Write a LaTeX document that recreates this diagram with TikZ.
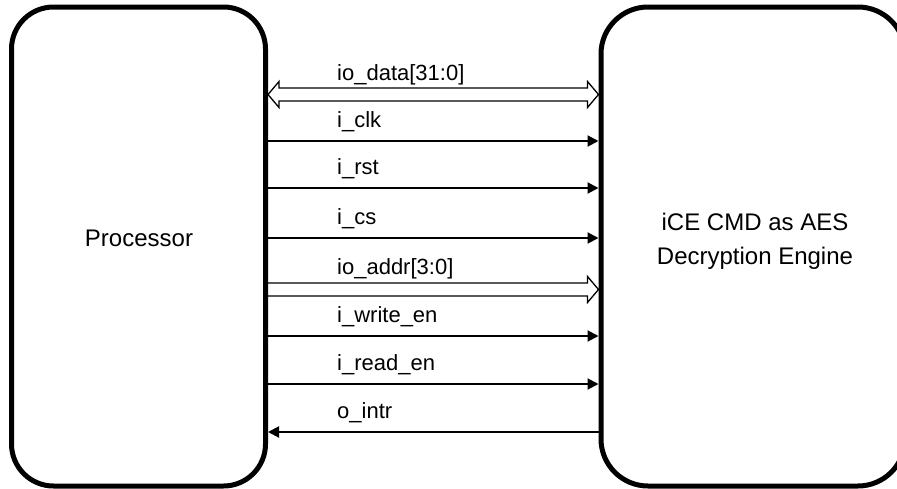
\documentclass[tikz,border=0pt]{standalone}
\usepackage{fontspec}
\setmainfont{Liberation Sans}
\usetikzlibrary{arrows.meta,calc}

\tikzset{
  block/.style={draw,line width=5pt,inner sep=0pt},
  sig/.style={line width=2pt,-{Triangle[length=11pt,width=11pt]}},
  busline/.style={line width=1.3pt,line join=miter},
  siglabel/.style={anchor=base west,inner sep=0pt,font=\fontsize{22}{26}\selectfont},
  title/.style={align=center,inner sep=0pt,font=\fontsize{24}{34}\selectfont}
}

\begin{document}
\begin{tikzpicture}[x=1pt,y=-1pt]
\useasboundingbox (0,0) rectangle (897,488);
\clip (0,0) rectangle (897,488);

% the two blocks
\node[block,rounded corners=42pt,minimum width=254pt,minimum height=479pt] (proc) at (138.5,246.5) {};
\node[block,rounded corners=47pt,minimum width=304pt,minimum height=479pt] (aes) at (753,246.5) {};
\node[title] (proctxt) at (139,238) {Processor};
\node[title] (aestxt) at (755,241) {iCE CMD as AES\\Decryption Engine};

% data bus, hollow heads at both ends
\coordinate (d1) at (proc.east |- 0,94.5);
\coordinate (d2) at (aes.west |- 0,94.5);
\draw[busline] (d1) -- ($(d1)+(11,-13)$) -- ($(d1)+(11,-6.5)$) -- ($(d2)+(-11,-6.5)$)
  -- ($(d2)+(-11,-13)$) -- (d2) -- ($(d2)+(-11,13)$) -- ($(d2)+(-11,6.5)$)
  -- ($(d1)+(11,6.5)$) -- ($(d1)+(11,13)$) -- cycle;
\node[siglabel] (ldata) at (337,80) {io\_data[31:0]};

% address bus, hollow head on the engine side
\coordinate (a1) at (proc.east |- 0,289.5);
\coordinate (a2) at (aes.west |- 0,289.5);
\draw[busline] ($(a1)+(-2,-6.5)$) -- ($(a2)+(-11,-6.5)$) -- ($(a2)+(-11,-13)$) -- (a2)
  -- ($(a2)+(-11,13)$) -- ($(a2)+(-11,6.5)$) -- ($(a1)+(-2,6.5)$);
\node[siglabel] (laddr) at (337,274) {io\_addr[3:0]};

% single control lines
\foreach \y/\txt/\nm in {141/i\_clk/clk,188/i\_rst/rst,238/i\_cs/cs,336/i\_write\_en/wr,384/i\_read\_en/rd}{
  \coordinate (\nm1) at (proc.east |- 0,\y);
  \coordinate (\nm2) at (aes.west |- 0,\y);
  \draw[sig] (\nm1) -- (\nm2);
  \node[siglabel] (l\nm) at (337,\y-13.5) {\txt};
}

% interrupt back to the processor
\coordinate (i1) at (aes.west |- 0,432);
\coordinate (i2) at (proc.east |- 0,432);
\draw[sig] (i1) -- (i2);
\node[siglabel] (lintr) at (337,418.5) {o\_intr};
\end{tikzpicture}
\end{document}
